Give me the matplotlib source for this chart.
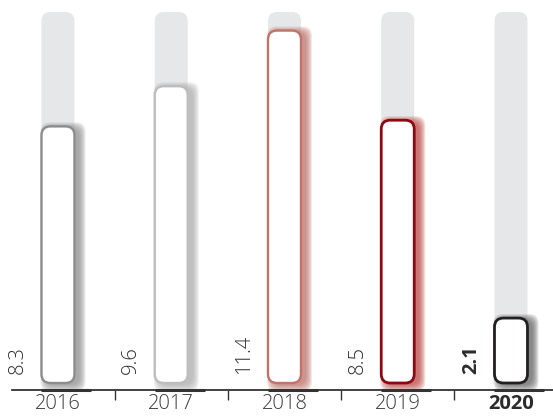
import matplotlib
matplotlib.use("Agg")
import matplotlib.pyplot as plt
from matplotlib.patches import FancyBboxPatch

# Data
years = ["2016", "2017", "2018", "2019", "2020"]
values = [8.3, 9.6, 11.4, 8.5, 2.1]
track_max = 12
edge_colors = ["#8c8c8c", "#bdbdbd", "#c0736a", "#8b0a12", "#231f20"]
shadow_colors = ["#8a8a8a", "#a8a8a8", "#b86a60", "#b8403a", "#5a5a5a"]
bold_year = "2020"

plt.rcParams["font.family"] = ["Open Sans", "DejaVu Sans"]

W, H, DPI = 553, 416, 100
fig = plt.figure(figsize=(W / DPI, H / DPI), dpi=DPI)

# axes placed in pixels: left 12, right 553, baseline line at 390, top at 12
x_lo, x_hi = -0.406, 4.371
y_lo, y_hi = -0.2265, 12.0
ax = fig.add_axes([12 / W, (H - 390) / H, (W - 12) / W, (390 - 12) / H])
ax.set_xlim(x_lo, x_hi)
ax.set_ylim(y_lo, y_hi)

px_x = (W - 12) / (x_hi - x_lo)   # pixels per x unit
px_y = (390 - 12) / (y_hi - y_lo)  # pixels per y unit
aspect = px_x / px_y

bar_w = 33 / px_x
rad = 9 / px_x


def rbox(x0, y0, w, h, **kw):
    return FancyBboxPatch((x0, y0), w, h,
                          boxstyle=f"round,pad=0,rounding_size={rad}",
                          mutation_aspect=aspect, **kw)


for i, (yr, v) in enumerate(zip(years, values)):
    x0 = i - bar_w / 2
    # grey track
    ax.add_patch(rbox(x0, 0, bar_w, track_max, facecolor="#e6e7e8",
                      edgecolor="none", zorder=1))
    # soft shadow to the right
    for k in range(7):
        e = k * 1.0
        dx, dy = 5 / px_x, -2 / px_y
        ax.add_patch(rbox(x0 + dx - e / px_x, dy - e / px_y,
                          bar_w + 2 * e / px_x, v + 2 * e / px_y,
                          facecolor=shadow_colors[i], edgecolor="none",
                          alpha=0.16, zorder=2))
    # white bar with coloured outline
    ax.add_patch(rbox(x0, 0, bar_w, v, facecolor="white",
                      edgecolor=edge_colors[i],
                      linewidth=2.0 if i >= 3 else 1.7, zorder=3))
    # value label
    bold = yr == bold_year
    ax.annotate(f"{v}", xy=(i, 0), xytext=(-40 * 0.72, 9 * 0.72),
                textcoords="offset points", rotation=90, ha="center",
                va="bottom", fontsize=14.5, color="#2b2b2b",
                fontweight="bold" if bold else "light", zorder=4)
    # underline segment on baseline
    ax.plot([x0, x0 + 50 / px_x], [y_lo, y_lo], color="#333333",
            linewidth=2.2, solid_capstyle="butt", clip_on=False, zorder=5)

for s in ["top", "right", "left"]:
    ax.spines[s].set_visible(False)
ax.spines["bottom"].set_color("#333333")
ax.spines["bottom"].set_linewidth(1.3)
ax.set_yticks([])
ax.set_xticks(range(len(years)))
ax.set_xticklabels(years)
ax.tick_params(axis="x", which="major", length=0, pad=3, labelsize=14.5,
               labelcolor="#3a3a3a")
ax.set_xticks([i + 0.5 for i in range(len(years) - 1)], minor=True)
ax.tick_params(axis="x", which="minor", length=7.5, width=1.0,
               color="#333333", direction="out")
for lab in ax.get_xticklabels():
    lab.set_fontweight("light")
    if lab.get_text() == bold_year:
        lab.set_fontweight("bold")
        lab.set_color("#2b2b2b")

fig.savefig("out.png", dpi=DPI)
